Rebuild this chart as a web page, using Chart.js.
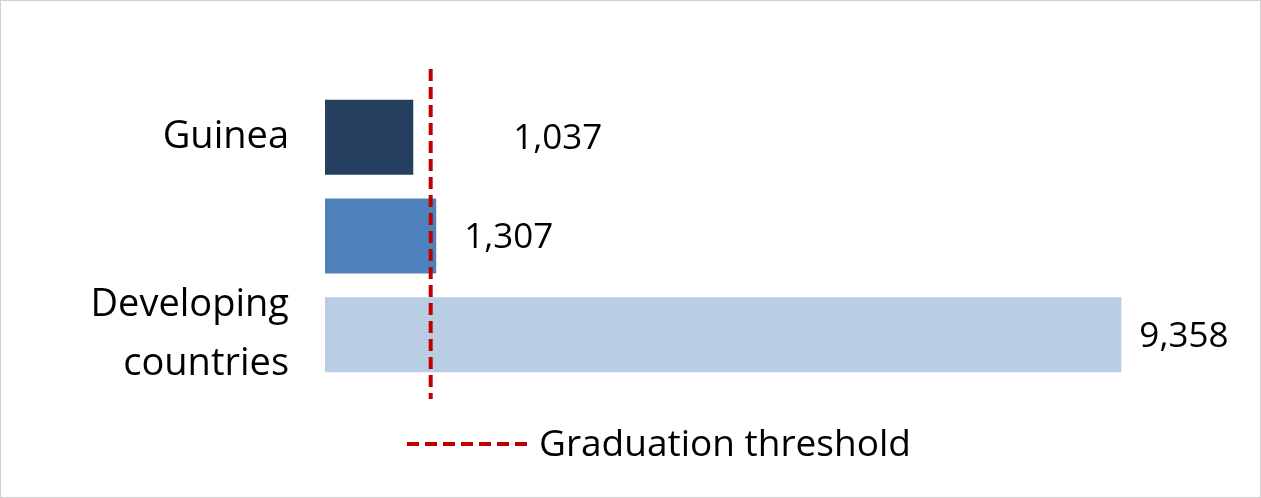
<!DOCTYPE html>
<html><head><meta charset="utf-8">
<script src="https://cdn.jsdelivr.net/npm/chart.js@4/dist/chart.umd.min.js"></script>
<style>html,body{margin:0;padding:0;background:#fff}#w{width:1259px;height:496px;border:1px solid #d0d0d0;position:relative}</style>
</head><body><div id="w"><canvas id="c"></canvas></div>
<script>
const categories = [["Guinea"], ["LDCs"], ["Developing", "countries"]];
const values = [1037, 1307, 9358];
const valueLabels = ["1,037", "1,307", "9,358"];
const threshold = 1242;
const thresholdLabel = "Graduation threshold";
const colors = ["#243f60", "#4f81bd", "#b9cde5"];
const FONT = "'Open Sans', Lato, sans-serif";

const extras = {
  id: 'extras',
  afterDatasetsDraw(chart) {
    const {ctx, scales: {x, y}} = chart;
    const meta = chart.getDatasetMeta(0);
    ctx.save();
    ctx.font = "35px " + FONT;
    ctx.fillStyle = "#000";
    ctx.textBaseline = "middle";
    const offs = [100, 28, 18];
    meta.data.forEach((b, i) => { ctx.fillText(valueLabels[i], b.x + offs[i], b.y + 2); });
    const tx = x.getPixelForValue(threshold);
    ctx.strokeStyle = "#c00000"; ctx.lineWidth = 4; ctx.setLineDash([12, 6]);
    ctx.beginPath(); ctx.moveTo(tx, 68); ctx.lineTo(tx, 398); ctx.stroke();
    ctx.beginPath(); ctx.moveTo(406, 443); ctx.lineTo(526, 443); ctx.stroke();
    ctx.setLineDash([]);
    ctx.font = "37px " + FONT;
    ctx.fillText(thresholdLabel, 538, 444);
    ctx.restore();
  }
};

new Chart(document.getElementById('c'), {
  type: 'bar',
  data: { labels: categories, datasets: [{ data: values, backgroundColor: colors, categoryPercentage: 0.76, barPercentage: 1 }] },
  options: {
    indexAxis: 'y', responsive: true, maintainAspectRatio: false, animation: false,
    layout: { padding: { top: 55, bottom: 113, right: 84 } },
    plugins: { legend: { display: false }, tooltip: { enabled: false } },
    scales: {
      x: { display: false, min: 0, max: 10000 },
      y: { grid: { display: false }, border: { display: false },
           ticks: { color: "#000", font: { size: 38, family: FONT, lineHeight: 1.55 }, padding: 28 },
           afterFit(s) { s.width = 324; } }
    }
  },
  plugins: [extras]
});
</script></body></html>
